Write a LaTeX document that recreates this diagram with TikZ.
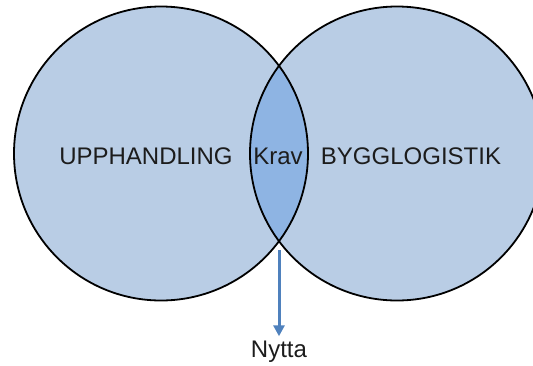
\documentclass[tikz,border=0pt]{standalone}
\usepackage{fontspec}
\setmainfont{Liberation Sans}
\usetikzlibrary{arrows.meta}
\definecolor{setfill}{HTML}{B9CDE5}
\definecolor{lensfill}{HTML}{8EB4E3}
\definecolor{arrowblue}{HTML}{4F81BD}
\definecolor{inktext}{HTML}{1C1C1C}
\begin{document}
\begin{tikzpicture}[x=1pt,y=-1pt,
  setcircle/.style={circle, draw=black, line width=1.8pt, minimum size=294pt, inner sep=0pt},
  setlabel/.style={font=\fontsize{24}{28}\selectfont, text=inktext, inner sep=0pt, anchor=base},
  flow/.style={draw=arrowblue, line width=3pt, -{Triangle[length=11pt,width=11pt]}}]
\useasboundingbox (0,0) rectangle (533,365);
\clip (0,0) rectangle (533,365);
% filled sets
\fill[setfill] (161,153.5) circle[radius=147pt];
\fill[setfill] (397,153.5) circle[radius=147pt];
% overlap of the two sets
\begin{scope}
  \clip (161,153.5) circle[radius=147pt];
  \fill[lensfill] (397,153.5) circle[radius=147pt];
\end{scope}
% outlines
\node[setcircle] (left) at (161,153.5) {};
\node[setcircle] (right) at (397,153.5) {};
\coordinate (meet) at (279,240.5);
% labels
\node[setlabel] (upph) at (146,164) {UPPHANDLING};
\node[setlabel] (krav) at (278,164) {Krav};
\node[setlabel] (bygg) at (411,164) {BYGGLOGISTIK};
\node[setlabel, inner sep=4pt] (nytta) at (279,357) {Nytta};
% outcome arrow
\draw[flow] ([yshift=-9.5pt]meet) -- (nytta.north);
\end{tikzpicture}
\end{document}
